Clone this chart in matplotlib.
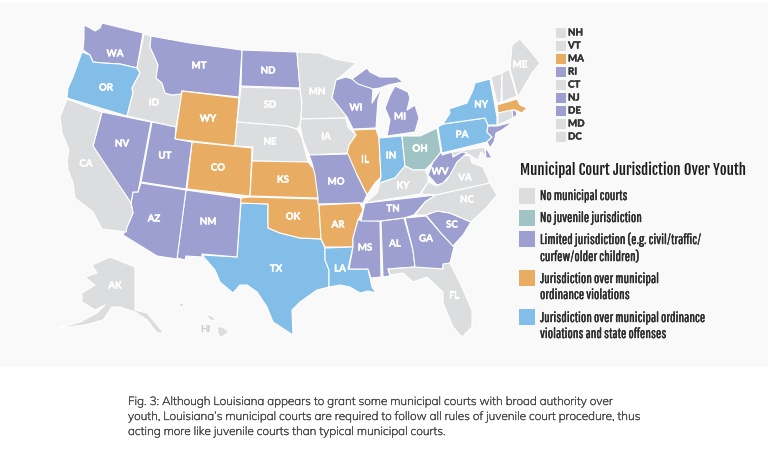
"""US map of municipal court jurisdiction over youth. Outlines traced by hand in image pixels."""
import matplotlib

matplotlib.use("Agg")
import matplotlib.patheffects as pe
import matplotlib.pyplot as plt
from matplotlib import font_manager as fm
from matplotlib.patches import Polygon, Rectangle

GRAY = "#dcddde"
TEAL = "#a0c4c4"
PURPLE = "#9d9fd0"
ORANGE = "#e8ac62"
BLUE = "#82bee8"


def pick_font(candidates):
    available = {f.name for f in fm.fontManager.ttflist}
    for name in candidates:
        if name in available:
            return name
    return "DejaVu Sans"


LEGEND_FONT = pick_font(["Pathway Gothic One", "PT Sans Narrow", "Archivo Narrow", "Liberation Sans Narrow"])
TITLE_FONT = pick_font(["Fjalla One", "Asap Condensed", "Liberation Sans Narrow"])
LEGEND_SIZE = 7.5 if LEGEND_FONT == "DejaVu Sans" else 10.2
TITLE_SIZE = 8 if TITLE_FONT == "DejaVu Sans" else 10.6
CAPTION_FONT = pick_font(["Mulish", "Muli", "Nunito", "Lato"])
LABEL_FONT = "Lato"

no_courts = ["ID", "CA", "SD", "NE", "MN", "IA", "KY", "VA", "NC", "FL", "ME", "AK", "AK2", "HI", "HI2", "HI3", "HI4",
             "NH", "VT", "CT", "MD"]
no_juvenile = ["OH"]
limited = ["WA", "MT", "ND", "NV", "UT", "AZ", "NM", "MO", "WI", "MI", "MI2", "WV", "TN", "MS", "AL", "GA", "SC",
           "RI", "NJ", "DE"]
ordinance = ["WY", "CO", "KS", "OK", "AR", "IL", "MA"]
ordinance_state = ["OR", "TX", "LA", "IN", "PA", "NY"]

outlines = {
    "WA": [(84, 25), (90, 28), (95, 31), (100, 28), (102, 23), (143, 33), (137, 68), (120, 64), (103, 63), (93, 62),
           (90, 55), (83, 50), (84, 38)],
    "OR": [(82, 52), (90, 55), (93, 62), (103, 63), (120, 64), (137, 68), (140, 73), (132, 88), (133, 93), (127, 116),
           (67, 98), (68, 88), (73, 77), (78, 63)],
    "ID": [(144, 34), (151, 36), (150, 47), (155, 58), (158, 65), (156, 78), (162, 83), (165, 93), (172, 95), (182, 94),
           (176, 127), (127, 116), (133, 93), (132, 88), (140, 73), (137, 68)],
    "MT": [(151, 36), (190, 43), (242, 50), (239, 97), (182, 91), (181, 94), (172, 95), (165, 93), (162, 83), (156, 78),
           (158, 65), (155, 58), (150, 47)],
    "WY": [(182, 91), (239, 98), (235, 146), (175, 139)],
    "ND": [(242, 50), (297, 52), (300, 88), (241, 86)],
    "SD": [(241, 87), (300, 89), (302, 103), (301, 119), (300, 125), (297, 129), (286, 126), (237, 122)],
    "NE": [(237, 122), (286, 126), (297, 129), (302, 138), (305, 150), (308, 162), (252, 161), (253, 147), (235, 146)],
    "CO": [(192, 142), (252, 148), (250, 196), (187, 189)],
    "KS": [(252, 161), (308, 162), (313, 168), (318, 176), (318, 198), (250, 196)],
    "TX": [(241, 203), (268, 204), (268, 228), (280, 233), (300, 238), (321, 239), (325, 248), (325, 260), (329, 270),
           (329, 287), (317, 290), (300, 302), (292, 310), (293, 335), (273, 322), (267, 307), (257, 292), (247, 285),
           (240, 285), (233, 293), (220, 282), (215, 270), (202, 255), (237, 257)],
    "OK": [(241, 198), (250, 197), (318, 199), (319, 205), (321, 239), (300, 238), (280, 233), (268, 228), (268, 204),
           (240, 203)],
    "NM": [(186, 190), (241, 198), (237, 257), (202, 254), (202, 257), (186, 256), (185, 260), (177, 258)],
    "AZ": [(141, 183), (186, 190), (177, 259), (157, 256), (123, 235), (127, 227), (133, 213), (131, 203), (133, 192),
           (138, 192)],
    "NV": [(102, 112), (151, 122), (140, 182), (138, 192), (133, 192), (131, 203), (108, 170), (93, 146)],
    "UT": [(152, 122), (176, 127), (175, 139), (192, 142), (186, 189), (141, 182)],
    "CA": [(67, 99), (102, 112), (93, 146), (131, 203), (133, 213), (127, 227), (126, 232), (102, 229), (93, 212),
           (75, 198), (73, 183), (68, 170), (67, 160), (69, 150), (62, 133), (60, 117)],
    "MN": [(297, 52), (320, 53), (335, 59), (356, 63), (345, 73), (336, 80), (332, 97), (345, 110), (346, 118),
           (301, 119), (302, 103), (300, 89)],
    "IA": [(301, 119), (346, 118), (348, 127), (356, 135), (349, 145), (348, 153), (309, 155), (303, 140), (300, 125)],
    "WI": [(336, 80), (346, 77), (352, 79), (368, 85), (373, 90), (372, 103), (382, 87), (378, 100), (376, 128),
           (353, 129), (347, 117), (332, 98)],
    "MI": [(352, 79), (367, 68), (370, 72), (380, 77), (397, 77), (403, 82), (388, 85), (380, 88), (373, 89), (358, 84)],
    "MI2": [(395, 86), (408, 92), (410, 98), (407, 110), (415, 105), (419, 118), (415, 132), (387, 136), (390, 120),
            (385, 108), (390, 95)],
    "IL": [(353, 130), (376, 129), (379, 138), (381, 177), (375, 183), (367, 195), (362, 185), (357, 175), (346, 158),
           (349, 145), (356, 135)],
    "IN": [(379, 138), (402, 136), (405, 166), (395, 178), (379, 183), (381, 177)],
    "OH": [(402, 136), (420, 136), (437, 128), (441, 152), (433, 162), (425, 170), (413, 170), (405, 166)],
    "MO": [(309, 155), (348, 154), (357, 175), (367, 195), (363, 203), (360, 203), (318, 204), (318, 198), (315, 175),
           (312, 163)],
    "AR": [(319, 205), (360, 203), (363, 210), (358, 220), (353, 238), (353, 247), (325, 247), (321, 239)],
    "LA": [(325, 248), (353, 247), (348, 269), (368, 269), (370, 278), (372, 287), (376, 293), (368, 291), (360, 293),
           (350, 287), (340, 285), (329, 287), (329, 270), (325, 260)],
    "MS": [(358, 220), (380, 221), (381, 277), (371, 278), (368, 269), (349, 269), (353, 247), (353, 238)],
    "AL": [(381, 221), (404, 218), (413, 250), (415, 267), (388, 269), (390, 276), (383, 277)],
    "GA": [(405, 218), (426, 216), (440, 232), (454, 247), (450, 263), (443, 265), (443, 269), (417, 268), (415, 267),
           (413, 250)],
    "SC": [(426, 215), (437, 211), (450, 213), (471, 222), (463, 235), (453, 246), (440, 232)],
    "FL": [(388, 269), (415, 267), (443, 269), (443, 264), (450, 263), (460, 283), (472, 310), (472, 327), (462, 337),
           (453, 327), (443, 303), (443, 292), (427, 277), (413, 282), (403, 273), (390, 275)],
    "TN": [(361, 221), (365, 203), (436, 195), (425, 202), (414, 215), (404, 218), (380, 221)],
    "KY": [(365, 203), (377, 193), (380, 183), (395, 178), (405, 166), (413, 170), (425, 170), (428, 176), (428, 182),
           (420, 194)],
    "VA": [(421, 194), (428, 182), (437, 186), (447, 180), (453, 165), (461, 155), (470, 156), (472, 163), (483, 167),
           (490, 183), (436, 195)],
    "MD": [(452, 152), (485, 147), (487, 158), (481, 152), (478, 160), (468, 154), (462, 152), (453, 157)],
    "WV": [(441, 149), (442, 155), (452, 152), (453, 157), (462, 152), (467, 153), (457, 162), (450, 175), (443, 183),
           (437, 185), (428, 175), (433, 162), (441, 152)],
    "DE": [(485, 148), (488, 151), (492, 158), (486, 158)],
    "NC": [(415, 215), (425, 202), (436, 195), (490, 183), (497, 195), (487, 207), (471, 222), (450, 213), (437, 211),
           (426, 215)],
    "PA": [(438, 127), (443, 124), (485, 118), (488, 125), (487, 132), (492, 137), (487, 142), (442, 153)],
    "NY": [(443, 124), (450, 113), (449, 109), (467, 103), (473, 90), (475, 83), (490, 79), (497, 117), (497, 125),
           (488, 125), (485, 118)],
    "NJ": [(488, 126), (497, 126), (513, 122), (502, 130), (496, 133), (494, 142), (490, 148), (487, 142), (492, 137),
           (487, 132)],
    "VT": [(491, 77), (502, 73), (501, 102), (497, 103)],
    "NH": [(502, 73), (509, 69), (517, 96), (502, 102)],
    "ME": [(510, 69), (512, 45), (520, 39), (532, 53), (540, 63), (532, 73), (518, 97)],
    "MA": [(497, 105), (517, 99), (520, 105), (527, 108), (522, 113), (515, 110), (498, 113)],
    "CT": [(498, 113), (512, 110), (513, 118), (498, 125)],
    "RI": [(512, 110), (516, 111), (517, 115), (513, 118)],
    "AK": [(135, 267), (135, 310), (147, 313), (164, 333), (157, 333), (147, 320), (135, 312), (120, 307), (112, 307),
           (103, 320), (85, 325), (58, 328), (80, 322), (97, 313), (105, 305), (95, 310), (82, 302), (82, 293), (95, 285),
           (85, 277), (97, 273), (92, 265), (110, 257)],
    "AK2": [(100, 323), (107, 317), (103, 323)],
    "HI": [(217, 327), (223, 327), (229, 332), (220, 338), (218, 333)],
    "HI2": [(205, 314), (212, 316), (217, 321), (210, 320)],
    "HI3": [(195, 310), (200, 313), (198, 314)],
    "HI4": [(180, 303), (184, 304), (183, 307), (179, 306)],
}

state_labels = {
    "WA": (115, 54), "OR": (106, 88), "ID": (154, 103), "MT": (199, 66), "WY": (208, 119), "NV": (122, 144),
    "UT": (165, 156), "CA": (86, 164), "CO": (218, 168), "ND": (268, 71), "SD": (270, 105), "NE": (270, 142),
    "KS": (283, 180), "OK": (293, 217), "TX": (276, 269), "NM": (208, 222), "AZ": (154, 219), "AK": (115, 286),
    "MN": (317, 92), "IA": (326, 137), "MO": (336, 182), "AR": (338, 225), "LA": (340, 269), "WI": (356, 108),
    "IL": (365, 160), "MI": (400, 117), "IN": (391, 156), "OH": (420, 149), "KY": (403, 186), "TN": (393, 209),
    "MS": (365, 248), "AL": (395, 244), "GA": (426, 239), "SC": (452, 225), "FL": (454, 296), "NC": (467, 200),
    "VA": (465, 178), "WV": (440, 172), "PA": (462, 135), "NY": (481, 105), "ME": (520, 65),
}

small_states = ["NH", "VT", "MA", "RI", "CT", "NJ", "DE", "MD", "DC"]
small_colors = [GRAY, GRAY, ORANGE, PURPLE, GRAY, PURPLE, PURPLE, GRAY, GRAY]

legend_colors = [GRAY, TEAL, PURPLE, ORANGE, BLUE]
legend_tops = [188, 210, 231, 270, 309]
legend_lines = [
    ("No municipal courts", 196),
    ("No juvenile jurisdiction", 218),
    ("Limited jurisdiction (e.g. civil/traffic/", 240),
    ("curfew/older children)", 257),
    ("Jurisdiction over municipal", 279),
    ("ordinance violations", 295),
    ("Jurisdiction over municipal ordinance", 318),
    ("violations and state offenses", 334),
]

caption = [
    "Fig. 3: Although Louisiana appears to grant some municipal courts with broad authority over",
    "youth, Louisiana\u2019s municipal courts are required to follow all rules of juvenile court procedure, thus",
    "acting more like juvenile courts than typical municipal courts.",
]


def state_color(name):
    for names, color in [(no_courts, GRAY), (no_juvenile, TEAL), (limited, PURPLE), (ordinance, ORANGE),
                         (ordinance_state, BLUE)]:
        if name in names:
            return color
    return GRAY


def heavier(color, width=0.3):
    return [pe.withStroke(linewidth=width, foreground=color)]


fig = plt.figure(figsize=(7.68, 4.55), dpi=100, facecolor="white")
ax = fig.add_axes([0, 0, 1, 1])
ax.set_xlim(0, 768)
ax.set_ylim(455, 0)
ax.axis("off")

ax.add_patch(Rectangle((0, 3), 768, 364, fc="#f9f9f9", ec="none", zorder=0))

for name, pts in outlines.items():
    ax.add_patch(Polygon(pts, closed=True, fc=state_color(name), ec="white", lw=0.8, joinstyle="round", zorder=2))

for name, (x, y) in state_labels.items():
    ax.text(x, y, name, color="white", fontsize=7, fontweight="bold", family=LABEL_FONT, ha="center", va="center",
            zorder=3, path_effects=heavier("white"))
ax.text(205, 329, "HI", color="#c9cacb", fontsize=7, fontweight="bold", family=LABEL_FONT, ha="center", va="center",
        zorder=3)

for i, (name, color) in enumerate(zip(small_states, small_colors)):
    top = 28 + i * 13
    ax.add_patch(Rectangle((556, top), 10, 10, fc=color, ec="none", zorder=2))
    ax.text(568, top + 5, name, color="#333333", fontsize=7, fontweight="bold", family=LABEL_FONT, va="center",
            path_effects=heavier("#333333"))

ax.text(520, 170, "Municipal Court Jurisdiction Over Youth", color="#1e1e1e", fontsize=TITLE_SIZE,
        fontweight="bold", family=TITLE_FONT, va="center")
for color, top in zip(legend_colors, legend_tops):
    ax.add_patch(Rectangle((519, top), 16, 16, fc=color, ec="none", zorder=2))
for line, y in legend_lines:
    ax.text(540, y, line, color="#2b2b2b", fontsize=LEGEND_SIZE, family=LEGEND_FONT, va="center",
            path_effects=heavier("#2b2b2b", 0.25))

for line, y in zip(caption, [402, 417, 432]):
    ax.text(128, y, line, color="#444444", fontsize=8.5, family=CAPTION_FONT, va="center",
            path_effects=heavier("#444444", 0.25))

fig.savefig("out.png", dpi=100)
plt.close(fig)
